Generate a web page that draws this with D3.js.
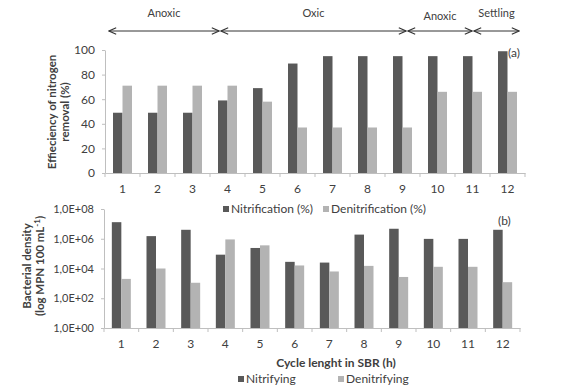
<!DOCTYPE html>
<html>
<head>
<meta charset="utf-8">
<script src="https://cdn.jsdelivr.net/npm/d3@7"></script>
<style>
  body { margin: 0; background: #fff; }
  text { font-family: Lato, "Open Sans", sans-serif; fill: #404040; }
</style>
</head>
<body>
<script>
let w = 563;
let h = 392;

let cycles = ["1", "2", "3", "4", "5", "6", "7", "8", "9", "10", "11", "12"];
let nitrification = [49, 49, 49, 59, 69, 89, 95, 95, 95, 95, 95, 99];
let denitrification = [71, 71, 71, 71, 58, 37, 37, 37, 37, 66, 66, 66];
let nitrifying = [1.3e7, 1.5e6, 4e6, 8.5e4, 2.4e5, 2.8e4, 2.5e4, 1.9e6, 4.7e6, 9.8e5, 9.8e5, 4e6];
let denitrifying = [2e3, 1e4, 1.1e3, 9e5, 3.6e5, 1.6e4, 6.3e3, 1.5e4, 2.7e3, 1.3e4, 1.3e4, 1.2e3];
let pctTicks = [0, 20, 40, 60, 80, 100];
let logTicks = [1, 1e2, 1e4, 1e6, 1e8];
let logTickLabels = ["1,0E+00", "1,0E+02", "1,0E+04", "1,0E+06", "1,0E+08"];
let phases = ["Anoxic", "Oxic", "Anoxic", "Settling"];

let dark = "#595959";
let light = "#b3b3b3";
let axisCol = "#bfbfbf";

let svg = d3.select("body")
  .append("svg")
  .attr("width", w)
  .attr("height", h);

// phase arrows (annotation, pixel positions)
let phaseX = [[108, 220], [220, 407], [407, 473], [473, 520]];
let phaseLabelY = [17, 17, 20, 17];

let defs = svg.append("defs");
defs.append("marker")
  .attr("id", "arr")
  .attr("viewBox", "0 0 10 10")
  .attr("refX", 9).attr("refY", 5)
  .attr("markerWidth", 9).attr("markerHeight", 9)
  .attr("markerUnits", "userSpaceOnUse")
  .attr("orient", "auto-start-reverse")
  .append("path")
  .attr("d", "M1,1.5 L9,5 L1,8.5")
  .attr("fill", "none")
  .attr("stroke", "#333")
  .attr("stroke-width", 1.2);

phases.forEach((p, i) => {
  svg.append("line")
    .attr("x1", phaseX[i][0] + 1).attr("x2", phaseX[i][1] - 1)
    .attr("y1", 31).attr("y2", 31)
    .attr("stroke", "#333")
    .attr("stroke-width", 1)
    .attr("marker-start", "url(#arr)")
    .attr("marker-end", "url(#arr)");
  svg.append("text")
    .attr("x", (phaseX[i][0] + phaseX[i][1]) / 2)
    .attr("y", phaseLabelY[i])
    .attr("text-anchor", "middle")
    .attr("font-size", 11)
    .text(p);
});

function barChart(g, x, y, s1, s2, base) {
  let inner = d3.scaleBand().domain([0, 1]).range([0, 19]);
  let grp = g.selectAll(".grp")
    .data(cycles)
    .enter()
    .append("g")
    .attr("transform", (d) => "translate(" + (x(d) + x.bandwidth() / 2 - 9.5) + ",0)");
  grp.append("rect")
    .attr("x", inner(0))
    .attr("width", inner.bandwidth())
    .attr("y", (d, i) => y(s1[i]))
    .attr("height", (d, i) => base - y(s1[i]))
    .attr("fill", dark);
  grp.append("rect")
    .attr("x", inner(1))
    .attr("width", inner.bandwidth())
    .attr("y", (d, i) => y(s2[i]))
    .attr("height", (d, i) => base - y(s2[i]))
    .attr("fill", light);
}

function styleAxis(a) {
  a.select(".domain").attr("stroke", axisCol);
  a.selectAll(".tick line").attr("stroke", axisCol);
  a.selectAll(".tick text").attr("fill", "#404040").attr("font-family", "Lato, 'Open Sans', sans-serif");
}

// ---- chart (a)
let xa = d3.scaleBand().domain(cycles).range([105, 525]);
let ya = d3.scaleLinear().domain([0, 100]).range([173, 50]);

let ga = svg.append("g");
barChart(ga, xa, ya, nitrification, denitrification, 173);

let axA = svg.append("g")
  .attr("transform", "translate(0,173)")
  .call(d3.axisBottom(xa).tickSize(0).tickPadding(11));
axA.selectAll(".tick text").attr("font-size", 12);
axA.selectAll(".sep")
  .data(d3.range(cycles.length + 1))
  .enter()
  .append("line")
  .attr("x1", (d) => 105 + d * xa.step())
  .attr("x2", (d) => 105 + d * xa.step())
  .attr("y1", 0).attr("y2", 4)
  .attr("stroke", axisCol);
styleAxis(axA);

let ayA = svg.append("g")
  .attr("transform", "translate(105,0)")
  .call(d3.axisLeft(ya).tickValues(pctTicks).tickSize(3).tickSizeOuter(0).tickPadding(7));
ayA.selectAll(".tick text").attr("font-size", 12);
styleAxis(ayA);

svg.append("text")
  .attr("transform", "translate(56,112) rotate(-90)")
  .attr("text-anchor", "middle")
  .attr("font-size", 11.5)
  .attr("font-weight", "bold")
  .selectAll("tspan")
  .data(["Effieciency of nitrogen", "removal (%)"])
  .enter()
  .append("tspan")
  .attr("x", 0)
  .attr("dy", (d, i) => i === 0 ? 0 : 13)
  .text((d) => d);

svg.append("text")
  .attr("x", 508).attr("y", 57)
  .attr("font-size", 12)
  .text("(a)");

function legend(items, xs, yy) {
  items.forEach((t, i) => {
    svg.append("rect")
      .attr("x", xs[i]).attr("y", yy - 7)
      .attr("width", 6).attr("height", 6)
      .attr("fill", i === 0 ? dark : light);
    svg.append("text")
      .attr("x", xs[i] + 8).attr("y", yy)
      .attr("font-size", 12)
      .text(t);
  });
}
legend(["Nitrification (%)", "Denitrification (%)"], [223, 323], 213);

// ---- chart (b)
let xb = d3.scaleBand().domain(cycles).range([104, 520]);
let yb = d3.scaleLog().domain([1, 1e8]).range([328, 209]);

let gb = svg.append("g");
barChart(gb, xb, yb, nitrifying, denitrifying, 328);

let axB = svg.append("g")
  .attr("transform", "translate(0,328)")
  .call(d3.axisBottom(xb).tickSize(0).tickPadding(11));
axB.selectAll(".tick text").attr("font-size", 12);
axB.selectAll(".sep")
  .data(d3.range(cycles.length + 1))
  .enter()
  .append("line")
  .attr("x1", (d) => 104 + d * xb.step())
  .attr("x2", (d) => 104 + d * xb.step())
  .attr("y1", 0).attr("y2", 4)
  .attr("stroke", axisCol);
styleAxis(axB);

let ayB = svg.append("g")
  .attr("transform", "translate(104,0)")
  .call(d3.axisLeft(yb).tickValues(logTicks).tickFormat((d, i) => logTickLabels[i]).tickSize(3).tickSizeOuter(0).tickPadding(7));
ayB.selectAll(".tick text").attr("font-size", 11);
styleAxis(ayB);

let yTitle = svg.append("text")
  .attr("transform", "translate(31,266) rotate(-90)")
  .attr("text-anchor", "middle")
  .attr("font-size", 11.5)
  .attr("font-weight", "bold");
yTitle.append("tspan").attr("x", 0).attr("dy", 0).text("Bacterial density");
yTitle.append("tspan").attr("x", 0).attr("dy", 13).text("(log MPN 100 mL");
yTitle.append("tspan").attr("dy", -4).attr("font-size", 8).text("-1");
yTitle.append("tspan").attr("dy", 4).text(")");

svg.append("text")
  .attr("x", 498).attr("y", 225)
  .attr("font-size", 12)
  .text("(b)");

svg.append("text")
  .attr("x", 336).attr("y", 367)
  .attr("text-anchor", "middle")
  .attr("font-size", 12)
  .attr("font-weight", "bold")
  .text("Cycle lenght in SBR (h)");

legend(["Nitrifying", "Denitrifying"], [238, 338], 383);
</script>
</body>
</html>
